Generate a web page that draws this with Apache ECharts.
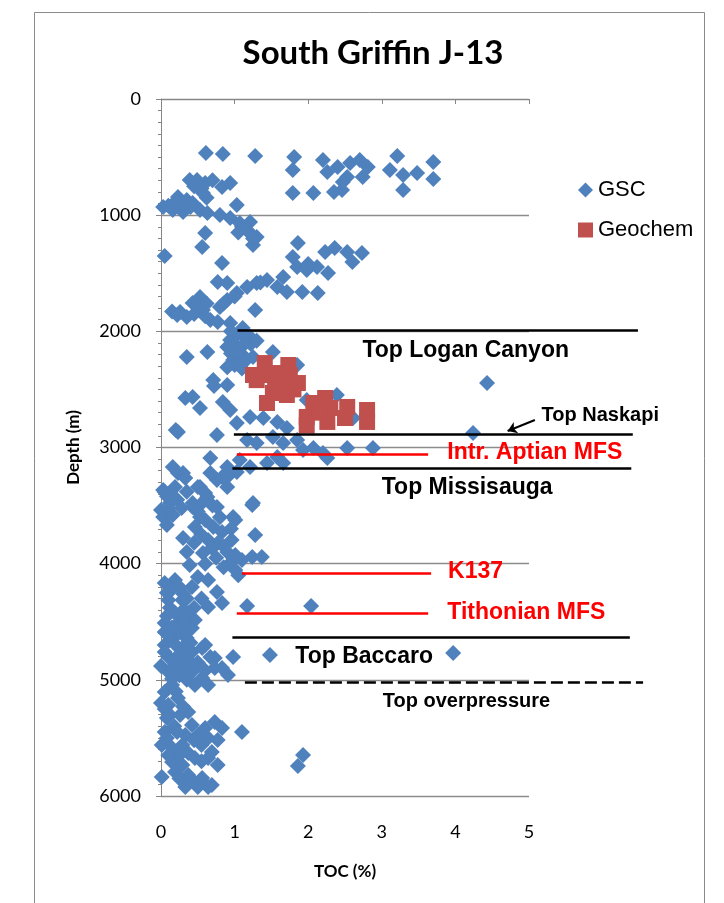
<!DOCTYPE html>
<html>
<head>
<meta charset="utf-8">
<title>South Griffin J-13</title>
<script src="https://cdn.jsdelivr.net/npm/echarts@6/dist/echarts.min.js"></script>
<style>
  html, body { margin: 0; padding: 0; background: #ffffff; }
  #chart { width: 724px; height: 903px; }
</style>
</head>
<body>
<div id="chart"></div>
<script>
// TOC (%) versus depth (m), South Griffin J-13 well
const chartTitle = 'South Griffin J-13';
const xTicks = [0, 1, 2, 3, 4, 5];
const depthTicks = [0, 1000, 2000, 3000, 4000, 5000, 6000];

// GSC samples: [TOC %, depth m]
const gscShallow = [
  [0.61,465],[0.84,473],[1.28,491],[1.81,499],[1.79,611],[2.20,525],[2.26,628],[2.40,585],
  [2.57,551],[2.70,525],[2.81,585],[2.74,671],[2.53,671],[2.47,714],[3.21,491],[3.11,611],
  [3.29,654],[3.48,637],[3.70,542],[3.70,689],[3.29,783],[1.79,809],[2.07,809],[2.35,801],
  [2.46,783],[0.39,697],[0.49,697],[0.60,723],[0.83,758],[0.94,723],[0.23,844],[0.35,869],
  [0.03,930],[0.16,955],[0.30,973],[0.43,895],[0.53,955],[0.57,809],[1.03,912],[0.63,981],
  [0.80,999],[0.45,750],[0.55,770],[0.28,900],[0.10,920],[0.40,930],[0.62,850],[0.70,700],
  [0.20,880]
];
const gscUpper = [
  [0.94,1024],[1.07,1067],[1.21,1059],[1.17,1128],[1.30,1188],[1.25,1257],[0.60,1153],
  [0.56,1274],[0.05,1351],[0.83,1412],[1.86,1240],[1.79,1360],[2.23,1317],[2.36,1283],
  [2.53,1317],[2.60,1403],[2.73,1326],[1.85,1446],[1.98,1472],[2.12,1446],[2.27,1498],
  [1.92,1661],[2.13,1670],[1.66,1532],[1.58,1618],[1.71,1661],[1.44,1558],[1.30,1584],
  [1.17,1618],[1.03,1670],[0.90,1730],[0.77,1575],[0.90,1584],[1.28,1816],[0.80,1790],
  [0.26,1833],[0.35,1877],[0.43,1756],[0.53,1704],[0.57,1816],[0.67,1902],[0.77,1920],
  [0.94,1928],[1.11,1971],[1.10,1100],[1.20,1150],[1.05,1150],[1.25,1200],[2.00,1420],
  [1.35,1580],[0.15,1830],[0.22,1860],[0.45,1850],[0.60,1870],[0.50,1780],[0.62,1760],
  [0.85,1760],[1.00,1700]
];
const gscMiddle = [
  [1.21,2049],[0.94,2075],[0.35,2221],[0.63,2178],[0.90,2135],[0.98,2247],[1.11,2204],
  [1.52,2178],[1.85,2290],[0.71,2419],[0.90,2462],[0.33,2574],[0.43,2565],[0.53,2660],
  [0.84,2608],[0.94,2677],[0.23,2866],[0.76,2892],[1.03,2789],[1.21,2737],[1.39,2746],
  [1.58,2780],[1.71,2832],[1.17,2935],[1.30,2961],[1.52,2909],[1.66,2961],[1.85,2935],
  [1.98,2591],[2.39,2548],[2.61,2746],[4.43,2445],[4.24,2875],[0.95,2000],[1.05,2020],
  [1.15,2060],[1.00,2110],[1.10,2130],[1.22,2110],[1.30,2080],[0.95,2190],[1.05,2210],
  [1.15,2250],[1.25,2220],[1.00,2290],[1.10,2320],[0.90,2310],[0.72,2470],[0.20,2850]
];
const gscLower = [
  [1.93,3021],[2.07,3004],[2.20,3047],[2.26,3090],[2.53,3004],[2.88,3004],[1.58,3082],
  [1.66,3133],[1.44,3133],[1.21,3168],[1.07,3107],[0.90,3168],[0.67,3090],[0.30,3219],
  [0.16,3168],[0.03,3366],[0.12,3392],[0.53,3340],[0.63,3426],[0.76,3280],[0.90,3254],
  [1.03,3211],[1.25,3478],[0.00,3538],[0.12,3564],[0.43,3512],[0.53,3598],[0.98,3598],
  [0.23,3219],[0.33,3262],[0.05,3383],[0.19,3340],[0.12,3478],[0.03,3598],[0.16,3581],
  [0.08,3667],[0.50,3340],[0.60,3392],[0.43,3478],[0.57,3469],[0.76,3512],[0.67,3219],
  [0.83,3254],[0.90,3340],[1.24,3495],[1.01,3624],[0.46,3684],[0.60,3624],[0.71,3684],
  [0.83,3727],[0.30,3779],[0.64,3796],[0.77,3822],[0.96,3796],[1.28,3753],[0.35,3899],
  [0.57,3908],[0.69,3865],[1.01,3925],[1.24,3942],[1.37,3942],[0.08,3420],[0.22,3450],
  [0.35,3380],[0.28,3520],[0.10,3520],[0.70,3500],[0.50,3550],[0.80,3600],[0.55,3750],
  [0.45,3820],[0.85,3850],[0.75,3950],[0.60,4000],[0.95,3700],[0.90,3900]
];
const gscDeep = [
  [0.39,4011],[0.94,3994],[1.01,4054],[1.10,3968],[0.05,4166],[0.19,4140],[0.42,4201],
  [0.50,4115],[0.64,4140],[0.76,4244],[0.83,4338],[0.64,4373],[1.17,4364],[2.04,4364],
  [0.10,4313],[0.29,4313],[0.19,4425],[0.37,4425],[0.05,4511],[0.23,4511],[0.46,4485],
  [0.05,4588],[0.23,4571],[0.42,4554],[0.05,4700],[0.10,4803],[0.29,4726],[0.42,4760],
  [0.56,4726],[0.67,4803],[0.73,4812],[0.10,4932],[0.29,4898],[0.42,4932],[0.56,4984],
  [0.73,4898],[0.83,4898],[0.91,4958],[0.98,4803],[1.48,4786],[3.97,4769],[0.15,4220],
  [0.30,4260],[0.55,4300],[0.30,4400],[0.45,4380],[0.15,4650],[0.35,4640],[0.20,4850],
  [0.50,4850],[0.00,4880],[0.15,4990],[0.35,5000],[0.60,4700],[0.85,4030],[1.05,4100],
  [0.08,4250],[0.25,4200],[0.35,4300],[0.12,4380],[0.08,4450],[0.30,4480],[0.15,4550],
  [0.35,4530],[0.28,4600],[0.10,4620],[0.40,4680],[0.20,4700],[0.25,4780],[0.35,4820],
  [0.05,4760],[0.15,4900],[0.45,4880],[0.60,4920],[0.25,4960]
];
const gscBottom = [
  [0.46,5045],[0.64,5045],[0.05,5105],[0.15,5045],[0.10,5217],[0.23,5157],[0.08,5329],
  [0.26,5303],[0.37,5277],[0.42,5389],[0.73,5363],[0.83,5415],[0.60,5415],[1.10,5449],
  [0.33,5475],[0.50,5475],[0.64,5501],[0.77,5518],[0.01,5561],[0.15,5587],[0.29,5561],
  [0.69,5621],[0.37,5630],[0.15,5707],[0.29,5733],[0.46,5673],[0.64,5673],[0.77,5733],
  [0.01,5836],[0.19,5793],[0.37,5819],[0.56,5845],[0.69,5905],[0.33,5922],[0.50,5922],
  [0.64,5922],[1.93,5647],[1.86,5741],[0.05,5250],[0.00,5200],[0.18,5400],[0.05,5450],
  [0.55,5560],[0.25,5650],[0.20,5100],[0.30,5230],[0.12,5300],[0.22,5450],[0.08,5500],
  [0.45,5520],[0.55,5700],[0.25,5850],[0.45,5880],[0.10,5650]
];

// Geochem samples: [TOC %, depth m]
const geochem = [
  [1.41,2273],[1.73,2290],[1.25,2376],[1.39,2376],[1.59,2359],[1.75,2376],[1.86,2445],
  [1.66,2445],[1.52,2531],[1.71,2548],[1.44,2617],[2.07,2617],[2.23,2574],[2.30,2660],
  [2.53,2651],[2.80,2677],[1.98,2737],[2.26,2780],[2.50,2746],[2.80,2780],[1.98,2810],
  [1.55,2470],[1.30,2420],[1.80,2500],[2.15,2700]
];

// Formation tops / surfaces
const horizonNames = ['Top Logan Canyon', 'Top Naskapi', 'Intr. Aptian MFS', 'Top Missisauga',
                      'K137', 'Tithonian MFS', 'Top Baccaro', 'Top overpressure'];
const horizonDepths = [1990, 2890, 3055, 3175, 4080, 4425, 4630, 5020];

// Drawing style of each horizon: line extent (TOC units), colour, label anchor
const horizonStyle = [
  { from: 1.04, to: 6.48, color: '#000000', dash: 'solid', labelX: 4.14, align: 'center', offset: [0, 20], size: 23 },
  { from: 0.99, to: 6.41, color: '#000000', dash: 'solid', labelX: 5.17, align: 'left',   offset: [0, -19], size: 20 },
  { from: 1.03, to: 3.63, color: '#ff0000', dash: 'solid', labelX: 3.89, align: 'left', offset: [0, -1], size: 23 },
  { from: 0.97, to: 6.39, color: '#000000', dash: 'solid', labelX: 4.16, align: 'center', offset: [0, 20], size: 23 },
  { from: 1.10, to: 3.67, color: '#ff0000', dash: 'solid', labelX: 3.90, align: 'left', offset: [0, -1], size: 23 },
  { from: 1.03, to: 3.63, color: '#ff0000', dash: 'solid', labelX: 3.89, align: 'left', offset: [0, 0], size: 23 },
  { from: 0.97, to: 6.37, color: '#000000', dash: 'solid', labelX: 2.76, align: 'center', offset: [0, 20], size: 23 },
  { from: 1.14, to: 6.55, color: '#000000', dash: [12, 5], labelX: 4.15, align: 'center', offset: [0, 19], size: 20 }
];
// Pointer to the Top Naskapi line
const naskapiArrow = [[5.08, 2763], [4.71, 2858]];

const gscAll = [].concat(gscShallow, gscUpper, gscMiddle, gscLower, gscDeep, gscBottom);

const chart = echarts.init(document.getElementById('chart'), null, { renderer: 'canvas' });

const horizonSeries = horizonNames.map(function (name, i) {
  const st = horizonStyle[i];
  const d = horizonDepths[i];
  return {
    type: 'lines',
    name: name,
    coordinateSystem: 'cartesian2d',
    clip: false,
    silent: true,
    z: 5,
    lineStyle: { color: st.color, width: 2.6, type: st.dash, opacity: 1 },
    data: [{ coords: [[st.from, d], [st.to, d]] }]
  };
});

const axisFont = 'Lato, "Open Sans", sans-serif';
const frame = {
  type: 'rect',
  id: 'frame',
  shape: { x: 34.5, y: 12.5, width: 670, height: 900 },
  style: { fill: 'none', stroke: '#8a8a8a', lineWidth: 1 },
  silent: true,
  z: -10
};

const option = {
  animation: false,
  backgroundColor: '#ffffff',
  title: {
    text: chartTitle,
    left: 368,
    top: 32,
    textAlign: 'center',
    textStyle: { fontFamily: axisFont, fontWeight: 'bold', fontSize: 33, color: '#000' }
  },
  legend: {
    orient: 'vertical',
    left: 573,
    top: 174,
    itemWidth: 15,
    itemHeight: 15,
    itemGap: 18,
    data: [
      { name: 'GSC', icon: 'diamond' },
      { name: 'Geochem', icon: 'rect' }
    ],
    textStyle: { fontFamily: '"Liberation Sans", Arial, sans-serif', fontSize: 22, color: '#000' }
  },
  graphic: [frame],
  grid: { left: 161, right: 195, top: 99, bottom: 107 },
  xAxis: {
    type: 'value',
    min: xTicks[0],
    max: xTicks[xTicks.length - 1],
    interval: 1,
    name: 'TOC (%)',
    nameLocation: 'middle',
    nameGap: 67,
    nameTextStyle: { fontFamily: axisFont, fontWeight: 'bold', fontSize: 17, color: '#000' },
    axisLine: { show: true, lineStyle: { color: '#868686', width: 1 } },
    axisTick: { show: true, length: 5, lineStyle: { color: '#868686' } },
    axisLabel: { margin: 27, fontFamily: axisFont, fontSize: 18, color: '#000' },
    splitLine: { show: false }
  },
  yAxis: {
    type: 'value',
    inverse: true,
    min: depthTicks[0],
    max: depthTicks[depthTicks.length - 1],
    interval: 1000,
    name: 'Depth (m)',
    nameLocation: 'middle',
    nameGap: 79,
    nameRotate: 90,
    nameTextStyle: { fontFamily: axisFont, fontWeight: 'bold', fontSize: 17, color: '#000' },
    axisLine: { show: true, lineStyle: { color: '#868686', width: 1 } },
    axisTick: { show: true, length: 5, lineStyle: { color: '#868686' } },
    minorTick: { show: true, splitNumber: 10, length: 3, lineStyle: { color: '#868686' } },
    axisLabel: {
      margin: 20, fontFamily: axisFont, fontSize: 18, color: '#000',
      formatter: function (v) { return String(v); }
    },
    splitLine: { show: true, lineStyle: { color: '#8c8c8c', width: 1.4 } }
  },
  series: [
    {
      type: 'scatter',
      name: 'GSC',
      data: gscAll,
      symbol: 'diamond',
      symbolSize: 16,
      itemStyle: { color: '#4f81bd', opacity: 1 },
      z: 2
    },
    {
      type: 'scatter',
      name: 'Geochem',
      data: geochem,
      symbol: 'rect',
      symbolSize: 16,
      itemStyle: { color: '#c0504d', opacity: 1 },
      z: 3
    },
    {
      type: 'lines',
      name: 'Naskapi pointer',
      coordinateSystem: 'cartesian2d',
      clip: false,
      silent: true,
      z: 6,
      symbol: ['none', 'arrow'],
      symbolSize: 9,
      lineStyle: { color: '#000', width: 2, opacity: 1 },
      data: [{ coords: naskapiArrow }]
    }
  ].concat(horizonSeries)
};

chart.setOption(option);

// Horizon names, placed through the grid's own data-to-pixel conversion
const horizonLabels = horizonNames.map(function (name, i) {
  const st = horizonStyle[i];
  const p = chart.convertToPixel({ gridIndex: 0 }, [st.labelX, horizonDepths[i]]);
  return {
    type: 'text',
    silent: true,
    z: 50,
    x: p[0] + st.offset[0],
    y: p[1] + st.offset[1],
    style: {
      text: name,
      fill: st.color,
      align: st.align,
      verticalAlign: 'middle',
      fontFamily: '"Liberation Sans", Arial, sans-serif',
      fontWeight: 'bold',
      fontSize: st.size
    }
  };
});
chart.setOption({ graphic: [frame].concat(horizonLabels) });
</script>
</body>
</html>
